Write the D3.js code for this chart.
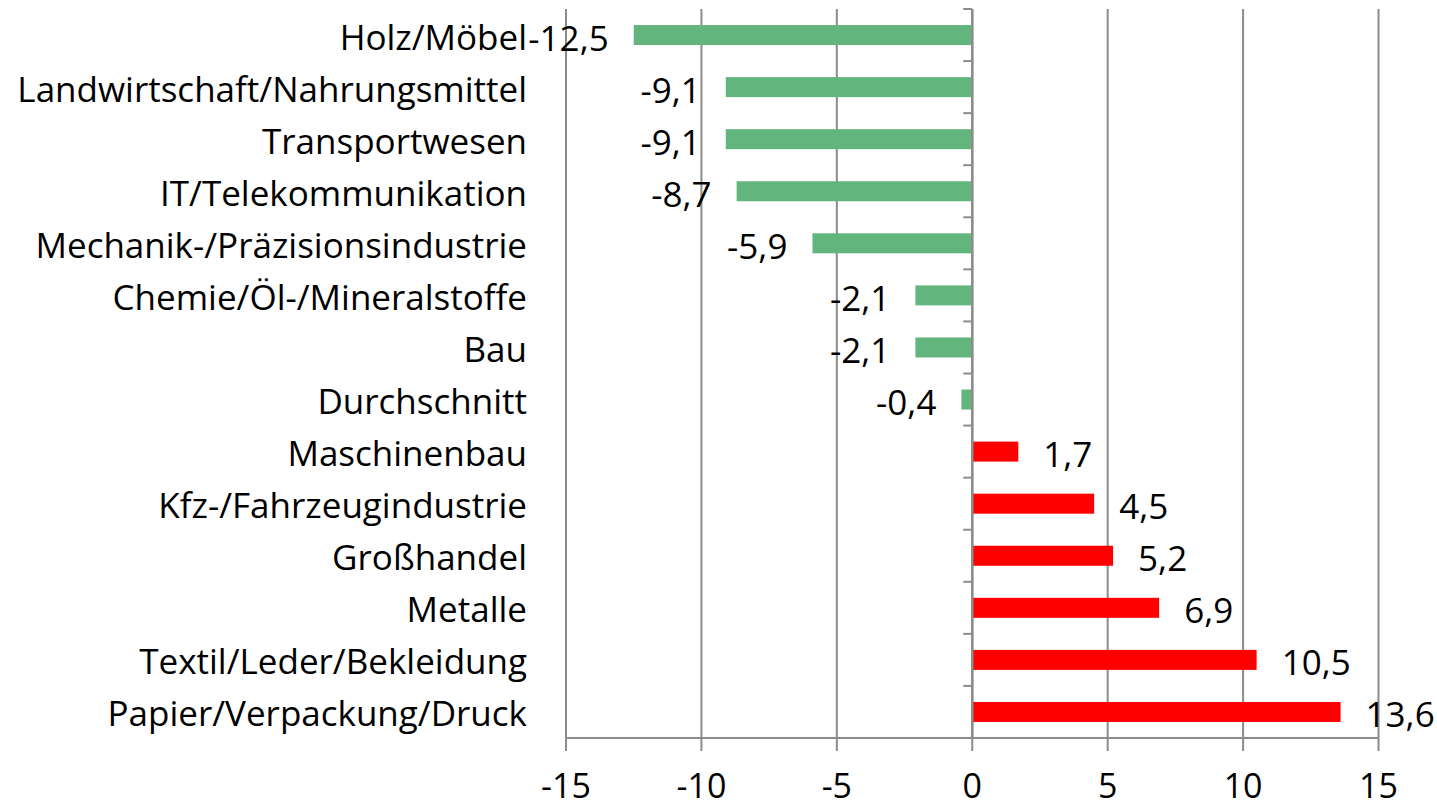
<!DOCTYPE html>
<html><head><meta charset="utf-8">
<script src="https://cdn.jsdelivr.net/npm/d3@7"></script>
<style>html,body{margin:0;padding:0;background:#fff;}svg{display:block;}</style>
</head><body>
<svg id="chart" width="1437" height="806"></svg>
<script>
const categories = ["Holz/Möbel","Landwirtschaft/Nahrungsmittel","Transportwesen","IT/Telekommunikation","Mechanik-/Präzisionsindustrie","Chemie/Öl-/Mineralstoffe","Bau","Durchschnitt","Maschinenbau","Kfz-/Fahrzeugindustrie","Großhandel","Metalle","Textil/Leder/Bekleidung","Papier/Verpackung/Druck"];
const values = [-12.5,-9.1,-9.1,-8.7,-5.9,-2.1,-2.1,-0.4,1.7,4.5,5.2,6.9,10.5,13.6];
const xTicks = [-15,-10,-5,0,5,10,15];
const colorNeg = "#63b57e", colorPos = "#ff0000";
const font = "Open Sans, sans-serif";

const svg = d3.select("#chart");
const x = d3.scaleLinear().domain([-15,15]).range([566,1378.5]);
const y = d3.scaleBand().domain(categories).range([9,738]).paddingInner(0).paddingOuter(0);
const barH = 20;
const grid = "#8c8c8c";

// vertical gridlines
svg.append("g").selectAll("line").data(xTicks).join("line")
  .attr("x1",d=>x(d)).attr("x2",d=>x(d)).attr("y1",9).attr("y2",751)
  .attr("stroke",grid).attr("stroke-width",2);
// bottom axis
svg.append("line").attr("x1",x(-15)).attr("x2",x(15)).attr("y1",738).attr("y2",738).attr("stroke",grid).attr("stroke-width",2);
svg.append("g").selectAll("text").data(xTicks).join("text")
  .attr("x",d=>x(d)).attr("y",798).attr("text-anchor","middle")
  .attr("font-family",font).attr("font-size",34).attr("fill","#000").text(d=>d);

// bars
svg.append("g").selectAll("rect").data(values).join("rect")
  .attr("x",d=>x(Math.min(0,d))).attr("width",d=>Math.abs(x(d)-x(0)))
  .attr("y",(d,i)=>y(categories[i])+y.bandwidth()/2-barH/2).attr("height",barH)
  .attr("fill",d=>d<0?colorNeg:colorPos);

// zero axis with category ticks
const z = x(0);
svg.append("line").attr("x1",z).attr("x2",z).attr("y1",9).attr("y2",738).attr("stroke",grid).attr("stroke-width",2.5);
const bounds = categories.map(c=>y(c)).concat([738]);
svg.append("g").selectAll("line").data(bounds).join("line")
  .attr("x1",z-9).attr("x2",z).attr("y1",d=>d).attr("y2",d=>d).attr("stroke",grid).attr("stroke-width",2);

// category labels
svg.append("g").selectAll("text").data(categories).join("text")
  .attr("x",527).attr("y",d=>y(d)+y.bandwidth()/2+1).attr("text-anchor","end").attr("dominant-baseline","central")
  .attr("font-family",font).attr("font-size",35).attr("fill","#000").text(d=>d);

// value labels
const fmt = v => d3.format(".1f")(v).replace("−","-").replace(".",",");
svg.append("g").selectAll("text").data(values).join("text")
  .attr("x",d=>d<0?x(d)-25:x(d)+25)
  .attr("y",(d,i)=>y(categories[i])+y.bandwidth()/2+2)
  .attr("text-anchor",d=>d<0?"end":"start").attr("dominant-baseline","central")
  .attr("font-family",font).attr("font-size",35).attr("fill","#000").text(d=>fmt(d));
</script>
</body></html>
